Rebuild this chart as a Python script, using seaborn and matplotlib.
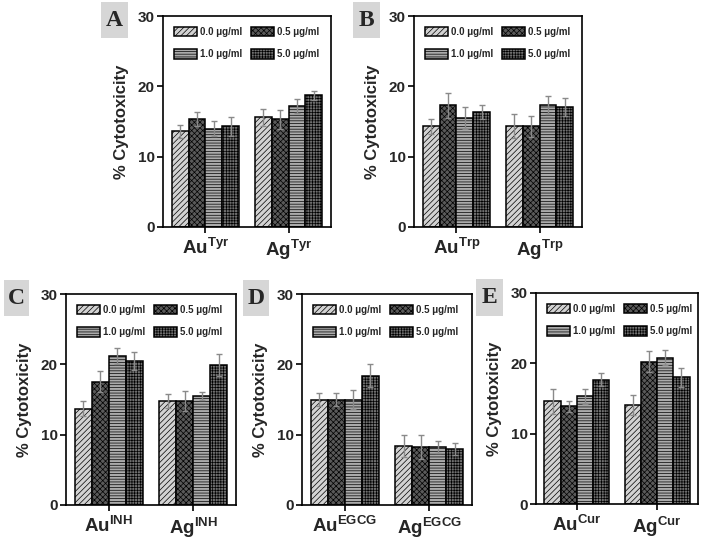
import pandas as pd
import matplotlib.pyplot as plt
import seaborn as sns
from matplotlib.patches import Rectangle

# 浓度与各面板数据 (均值, 误差)
concentrations = ['0.0 μg/ml', '0.5 μg/ml', '1.0 μg/ml', '5.0 μg/ml']

tyr_groups = ['Au$^{\\mathbf{Tyr}}$', 'Ag$^{\\mathbf{Tyr}}$']
tyr_mean = [[13.6, 15.3, 14.0, 14.3], [15.6, 15.3, 17.2, 18.7]]
tyr_err = [[0.95, 1.0, 1.1, 1.4], [1.2, 1.3, 1.0, 0.7]]

trp_groups = ['Au$^{\\mathbf{Trp}}$', 'Ag$^{\\mathbf{Trp}}$']
trp_mean = [[14.3, 17.3, 15.5, 16.4], [14.3, 14.3, 17.3, 17.1]]
trp_err = [[1.1, 1.8, 1.5, 1.0], [1.7, 1.5, 1.3, 1.3]]

inh_groups = ['Au$^{\\mathbf{INH}}$', 'Ag$^{\\mathbf{INH}}$']
inh_mean = [[13.7, 17.5, 21.2, 20.5], [14.8, 14.8, 15.5, 19.9]]
inh_err = [[1.1, 1.5, 1.1, 1.3], [1.05, 1.4, 0.5, 1.5]]

egcg_groups = ['Au$^{\\mathbf{EGCG}}$', 'Ag$^{\\mathbf{EGCG}}$']
egcg_mean = [[15.0, 15.0, 15.0, 18.4], [8.4, 8.3, 8.3, 8.0]]
egcg_err = [[0.9, 0.9, 1.3, 1.6], [1.6, 1.7, 0.85, 0.85]]

cur_groups = ['Au$^{\\mathbf{Cur}}$', 'Ag$^{\\mathbf{Cur}}$']
cur_mean = [[14.6, 13.9, 15.3, 17.7], [14.1, 20.2, 20.8, 18.0]]
cur_err = [[1.75, 0.75, 1.1, 0.95], [1.4, 1.5, 1.05, 1.4]]

# 样式
bar_colors = ['#d2d2d2', '#5a5a5a', '#ababab', '#707070']
bar_hatches = ['//////', 'xxxxxx', '------', '++++++']

sns.set_style('white')
plt.rcParams['font.family'] = ['Liberation Sans', 'DejaVu Sans']
plt.rcParams['font.weight'] = 'bold'
plt.rcParams['mathtext.fontset'] = 'custom'
plt.rcParams['mathtext.rm'] = 'Liberation Sans:bold'
plt.rcParams['mathtext.bf'] = 'Liberation Sans:bold'
plt.rcParams['hatch.linewidth'] = 0.5
plt.rcParams['hatch.color'] = 'black'

fig = plt.figure(figsize=(7.08, 5.42), dpi=100)


def draw_panel(rect, letter, letter_box, groups, means, errs):
    ax = fig.add_axes(rect)
    rows = []
    for g, m_list in zip(groups, means):
        for c, m in zip(concentrations, m_list):
            rows.append({'group': g, 'conc': c, 'value': m})
    df = pd.DataFrame(rows)
    sns.barplot(data=df, x='group', y='value', hue='conc', hue_order=concentrations,
                order=groups, width=0.81, gap=0, errorbar=None, legend=False, ax=ax)
    bar_conts = list(ax.containers)
    for k, cont in enumerate(bar_conts):
        for gi, patch in enumerate(cont):
            patch.set_facecolor(bar_colors[k])
            patch.set_edgecolor('black')
            patch.set_linewidth(1.1)
            patch.set_hatch(bar_hatches[k])
            xc = patch.get_x() + patch.get_width() / 2
            ax.errorbar(xc, patch.get_height(), yerr=errs[gi][k], color='#8a8a8a',
                        elinewidth=1.0, capsize=2.5, capthick=1.0, zorder=3)
    ax.set_ylim(0, 30)
    ax.set_xlim(-0.51, 1.51)
    ax.set_yticks([0, 10, 20, 30])
    ax.set_xlabel('')
    ax.set_ylabel('% Cytotoxicity', fontsize=12, fontweight='bold', labelpad=6)
    ax.tick_params(axis='both', direction='out', length=4, width=1.2, color='black',
                   bottom=True, left=True)
    ax.tick_params(axis='y', labelsize=11, pad=2)
    ax.tick_params(axis='x', labelsize=13.5, pad=3)
    for lab in ax.get_yticklabels():
        lab.set_fontweight('bold')
    for sp in ax.spines.values():
        sp.set_visible(True)
        sp.set_color('black')
        sp.set_linewidth(1.2)
    # 图例按行排列: 0.0, 0.5 / 1.0, 5.0
    order = [0, 2, 1, 3]
    ax.legend([bar_conts[i] for i in order], [concentrations[i] for i in order],
              ncol=2, frameon=False, loc='upper left',
              bbox_to_anchor=(0.0, 1.0), handlelength=2.4, handleheight=1.1,
              handletextpad=0.3, columnspacing=0.9, labelspacing=1.3, borderpad=0.6,
              prop={'weight': 'bold', 'size': 7})
    # 面板字母
    x0, y0, w, h = letter_box
    fig.patches.append(Rectangle((x0 / 708, 1 - (y0 + h) / 542), w / 708, h / 542,
                                 transform=fig.transFigure, facecolor='#d6d6d6',
                                 edgecolor='none', zorder=0))
    fig.text((x0 + w / 2) / 708, 1 - (y0 + h / 2) / 542, letter, ha='center', va='center',
             fontsize=17, fontweight='bold', family=['Liberation Serif', 'DejaVu Serif'])
    return ax


draw_panel([163 / 708, 1 - 227 / 542, 168 / 708, 211 / 542], 'A', (101, 2, 27, 36),
           tyr_groups, tyr_mean, tyr_err)
draw_panel([414 / 708, 1 - 227 / 542, 168 / 708, 211 / 542], 'B', (353, 2, 27, 36),
           trp_groups, trp_mean, trp_err)
draw_panel([66 / 708, 1 - 505 / 542, 170 / 708, 211 / 542], 'C', (4, 280, 25, 36),
           inh_groups, inh_mean, inh_err)
draw_panel([302 / 708, 1 - 505 / 542, 170 / 708, 211 / 542], 'D', (243, 280, 26, 36),
           egcg_groups, egcg_mean, egcg_err)
draw_panel([536 / 708, 1 - 504 / 542, 162 / 708, 211 / 542], 'E', (476, 279, 27, 37),
           cur_groups, cur_mean, cur_err)

fig.savefig('out.png', dpi=100)
